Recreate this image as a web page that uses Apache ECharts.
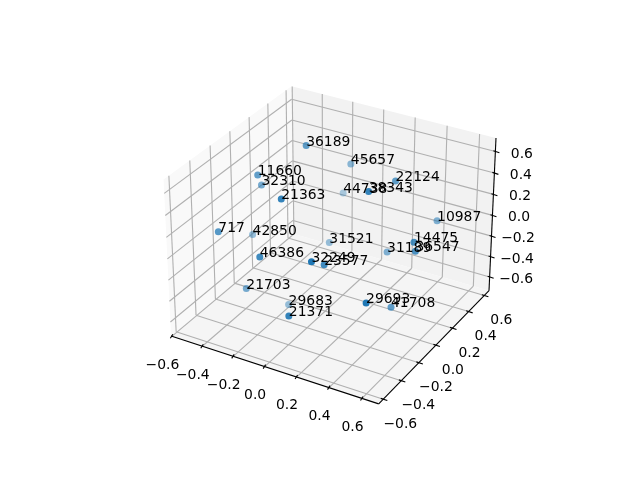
<!DOCTYPE html>
<html><head><meta charset="utf-8"><style>html,body{margin:0;background:#fff}#c{width:640px;height:480px}</style>
<script src="https://cdn.jsdelivr.net/npm/echarts@6/dist/echarts.min.js"></script></head><body><div id="c"></div><script>
const labels=["36189","45657","22124","44738","38343","10987","11660","32310","21363","717","42850","46386","31521","32249","23577","31189","14475","36547","21703","29683","21371","29693","41708"];
const xs=[-0.17,-0.07,0.30,-0.17,0.32,0.46,-0.36,-0.40,-0.07,-0.43,-0.485,-0.13,-0.10,0.22,0.18,0.26,0.54,0.55,-0.33,-0.21,0.12,0.52,0.45];
const ys=[0.09,0.41,0.25,0.50,-0.09,0.45,-0.11,-0.01,-0.34,-0.41,0.02,-0.47,0.22,-0.52,-0.32,0.24,0.02,0.02,-0.30,-0.05,-0.59,-0.47,-0.06];
const zs=[0.70,0.35,0.45,-0.03,0.60,0.00,0.49,0.31,0.55,0.15,-0.22,0.09,-0.28,0.24,0.04,-0.23,0.15,0.07,-0.43,-0.73,-0.25,-0.04,-0.44];
const ticks=[-0.6,-0.4,-0.2,0,0.2,0.4,0.6];
const xlim=[-0.605,0.70],ylim=[-0.65,0.66],zlim=[-0.737,0.724];
const box=[1.1905,1.1905,0.8929],R=box.map(b=>b/2);
const w=[0.4330127,-0.75,0.5],u=[0.8660254,0.5,0],v=[-0.25,0.4330127,0.8660254];
const dot=(a,b)=>a[0]*b[0]+a[1]*b[1]+a[2]*b[2];
function proj(x,y,z){const P=[(x-xlim[0])/(xlim[1]-xlim[0])*box[0]-R[0],(y-ylim[0])/(ylim[1]-ylim[0])*box[1]-R[1],(z-zlim[0])/(zlim[1]-zlim[0])*box[2]-R[2]];
 const c=10-dot(w,P);return [143.2+(dot(u,P)/c+.095)*1997.8,427.2-(dot(v,P)/c+.095)*1997.8,dot(w,P)];}
const pts=labels.map((_,i)=>proj(xs[i],ys[i],zs[i]));
const shade=pts.map(p=>Math.max(.3,Math.min(1,1-.7*(.5-p[2]))));
const [x0,x1]=xlim,[y0,y1]=ylim,[z0,z1]=zlim;
const poly=[];
poly.push([[x0,y0,z0],[x0,y1,z0],[x0,y1,z1],[x0,y0,z1]].map(q=>proj(...q)).concat([['#f9f9f9']]));
poly.push([[x0,y1,z0],[x1,y1,z0],[x1,y1,z1],[x0,y1,z1]].map(q=>proj(...q)).concat([['#f2f2f2']]));
poly.push([[x0,y0,z0],[x1,y0,z0],[x1,y1,z0],[x0,y1,z0]].map(q=>proj(...q)).concat([['#f5f5f5']]));
const lines=[],texts=[];
const G=(a,b)=>lines.push({a:proj(...a),b:proj(...b),c:'#b0b0b0',w:1.1});
ticks.forEach(t=>{G([t,y0,z0],[t,y1,z0]);G([t,y1,z0],[t,y1,z1]);G([x0,t,z0],[x1,t,z0]);G([x0,t,z0],[x0,t,z1]);G([x0,y0,t],[x0,y1,t]);G([x0,y1,t],[x1,y1,t]);});
[[[x0,y0,z0],[x1,y0,z0]],[[x1,y0,z0],[x1,y1,z0]],[[x1,y1,z0],[x1,y1,z1]]].forEach(e=>lines.push({a:proj(...e[0]),b:proj(...e[1]),c:'#000',w:1.1}));
const fmt=t=>(t<0?'\u2212':'')+Math.abs(t).toFixed(1);
ticks.forEach(t=>{const a=proj(t,y0,z0),b=proj(x1,t,z0),c=proj(x1,y1,t);
 lines.push({a:[a[0]+1,a[1]-2],b:[a[0]-1.5,a[1]+2],c:'#000',w:1.1});
 lines.push({a:[b[0]-2.5,b[1]-.8],b:[b[0]+4,b[1]+1.3],c:'#000',w:1.1});
 lines.push({a:[c[0]-2,c[1]-.7],b:[c[0]+4,c[1]+1.3],c:'#000',w:1.1});
 texts.push({p:[a[0]-9.5,a[1]+28.7],s:fmt(t)},{p:[b[0]+17,b[1]+25],s:fmt(t)},{p:[c[0]+26.5,c[1]+2.5],s:fmt(t)});});
const FONT='13.9px "DejaVu Sans"';
const order=pts.map((p,i)=>i).sort((a,b)=>pts[a][2]-pts[b][2]);
const chart=echarts.init(document.getElementById('c'),null,{renderer:'canvas'});
chart.setOption({animation:false,grid:{left:0,right:0,top:0,bottom:0},
xAxis:{type:'value',min:0,max:640,show:false},yAxis:{type:'value',min:0,max:480,inverse:true,show:false},
series:[
{type:'custom',coordinateSystem:'cartesian2d',silent:true,data:poly.map((_,i)=>[i]),encode:{x:[],y:[]},z:1,renderItem:(p,api)=>{const q=poly[p.dataIndex];return {type:'polygon',shape:{points:q.slice(0,4).map(c=>api.coord([c[0],c[1]]))},style:{fill:q[4][0]}};}},
{type:'custom',coordinateSystem:'cartesian2d',silent:true,data:lines.map((_,i)=>[i]),encode:{x:[],y:[]},z:2,renderItem:(p,api)=>{const l=lines[p.dataIndex];const A=api.coord([l.a[0],l.a[1]]),B=api.coord([l.b[0],l.b[1]]);return {type:'line',shape:{x1:A[0],y1:A[1],x2:B[0],y2:B[1]},style:{stroke:l.c,lineWidth:l.w}};}},
{type:'custom',coordinateSystem:'cartesian2d',silent:true,data:texts.map((_,i)=>[i]),encode:{x:[],y:[]},z:3,renderItem:(p,api)=>{const l=texts[p.dataIndex];const A=api.coord(l.p);return {type:'text',style:{text:l.s,x:A[0],y:A[1],font:FONT,fill:'#000',textAlign:'center',textVerticalAlign:'middle'}};}},
{type:'scatter',z:4,symbolSize:7,data:order.map(i=>({value:pts[i].slice(0,2),itemStyle:{color:'#1f77b4',opacity:shade[i]},label:{show:true,opacity:1,formatter:labels[i],position:[3.5,7],align:'left',verticalAlign:'bottom',fontFamily:'DejaVu Sans',fontSize:13.9,color:'#000'}}))}
]});
</script></body></html>
